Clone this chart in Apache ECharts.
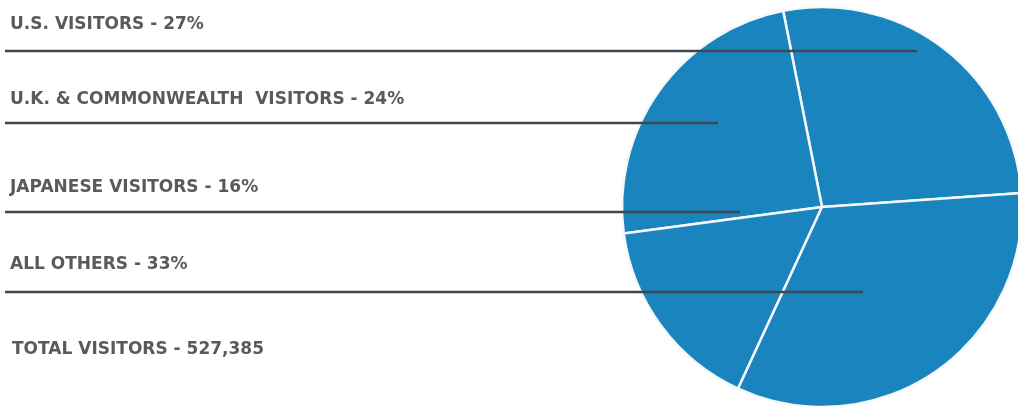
<!DOCTYPE html>
<html>
<head>
<meta charset="utf-8">
<script src="https://cdn.jsdelivr.net/npm/echarts@6/dist/echarts.min.js"></script>
<style>
  html, body { margin: 0; padding: 0; background: #ffffff; }
  #chart { width: 1018px; height: 406px; }
</style>
</head>
<body>
<div id="chart"></div>
<script>
// Visitor groups, listed counter-clockwise around the pie from the U.S. slice
const categories = ['U.S. VISITORS', 'U.K. & COMMONWEALTH  VISITORS', 'JAPANESE VISITORS', 'ALL OTHERS'];
const shares = [27, 24, 16, 33];
const totalVisitors = '527,385';

// Row layout for the leader labels on the left
const labelRowY = [25, 100, 188, 265];
const leaderY = [51, 123, 212, 292];
const leaderEndX = [917, 718, 740, 863];

const chart = echarts.init(document.getElementById('chart'), null, { renderer: 'canvas' });

const font = {
  fontFamily: 'DejaVu Sans',
  fontWeight: 'bold',
  fontSize: 17
};
const textColor = '#5a5a5a';

// Leader rules drawn above the pie so they cross into their slices
const leaders = leaderY.map((y, i) => ({
  type: 'line',
  z: 100,
  silent: true,
  shape: { x1: 5, y1: y, x2: leaderEndX[i], y2: y },
  style: { stroke: '#3f4750', lineWidth: 2.5 }
}));

chart.setOption({
  backgroundColor: '#ffffff',
  animation: false,
  graphic: leaders.concat([{
    type: 'text',
    left: 12,
    top: 341,
    style: Object.assign({ text: 'TOTAL VISITORS - ' + totalVisitors, fill: textColor }, font)
  }]),
  series: [{
    type: 'pie',
    center: [822, 207],
    radius: 200,
    clockwise: false,
    startAngle: 4,
    avoidLabelOverlap: false,
    silent: true,
    itemStyle: {
      color: '#1a84bf',
      borderColor: '#f4f8fb',
      borderWidth: 2.5
    },
    label: Object.assign({
      show: true,
      position: 'outside',
      color: textColor,
      formatter: '{b} - {c}%'
    }, font),
    labelLine: { show: false },
    labelLayout: function (params) {
      return {
        x: 10,
        y: labelRowY[params.dataIndex],
        align: 'left',
        verticalAlign: 'middle'
      };
    },
    data: categories.map((name, i) => ({ name: name, value: shares[i] }))
  }]
});
</script>
</body>
</html>
